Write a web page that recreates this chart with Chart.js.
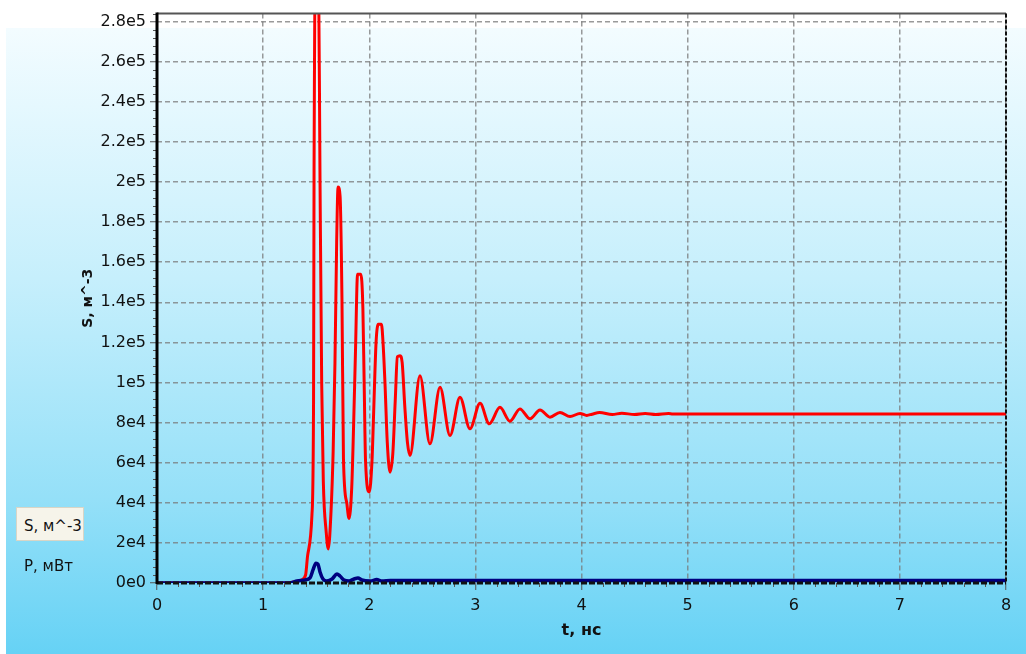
<!DOCTYPE html>
<html>
<head>
<meta charset="utf-8">
<script src="https://cdn.jsdelivr.net/npm/chart.js@4.4.1/dist/chart.umd.min.js"></script>
<style>
  html, body { margin: 0; padding: 0; background: #fff; }
  #wrap { position: relative; width: 1026px; height: 654px; overflow: hidden; }
  #panel { position: absolute; left: 6px; top: 28px; right: 0; bottom: 0;
    background: linear-gradient(to bottom, #f3fcff 0%, #c6effc 40%, #95e0f8 75%, #66d2f5 100%); }
  #chart { position: absolute; left: 0; top: 0; }
  .leg { position: absolute; font: 15px "DejaVu Sans", sans-serif; color: #111; white-space: nowrap; }
  #legS { left: 16px; top: 507px; width: 68px; box-sizing: border-box; background: #f6f4ea;
    border: 1px solid #d8d5c6; padding: 4px 0 0 7px; line-height: 28px; }
  #legP { left: 24px; top: 556px; line-height: 20px; }
</style>
</head>
<body>
<div id="wrap">
  <div id="panel"></div>
  <canvas id="chart" width="1026" height="654"></canvas>
  <div class="leg" id="legS"></div>
  <div class="leg" id="legP"></div>
</div>
<script>
// S, м^-3 (красная)
const tS = [0, 1.20, 1.30, 1.36, 1.40, 1.42, 1.46, 1.475, 1.48, 1.50, 1.52, 1.536, 1.552, 1.567, 1.595, 1.614,
  1.640, 1.660, 1.677, 1.693, 1.706, 1.725, 1.743, 1.757, 1.788, 1.809, 1.835, 1.852, 1.870, 1.890, 1.920,
  1.940, 1.952, 1.965, 2.000, 2.026, 2.040, 2.064, 2.085, 2.115, 2.130, 2.148, 2.170, 2.196, 2.222, 2.245,
  2.265, 2.290, 2.310, 2.335, 2.360, 2.384, 2.478, 2.572, 2.667, 2.761, 2.855, 2.949, 3.044, 3.131, 3.232,
  3.326, 3.420, 3.515, 3.609, 3.703, 3.797, 3.892, 3.986, 4.05, 4.10, 4.17, 4.29, 4.38, 4.50, 4.60, 4.70,
  4.82, 4.86, 8];
const sVals = [0, 0, 600, 1500, 4000, 14000, 34000, 89000, 206000, 330000, 320000, 201000, 99000, 51000, 25000, 17000,
  36000, 66000, 110000, 170000, 197500, 193000, 141000, 62000, 40000, 32200, 47700, 77500, 115000, 154000, 154000,
  137000, 100000, 61000, 45400, 61000, 82500, 119800, 129000, 129000, 119800, 100000, 70000, 55300, 64600, 91000,
  112800, 113300, 110000, 88000, 70000, 63600, 103400, 69400, 97600, 73600, 92600, 76900, 89600, 79400, 87600,
  80700, 86800, 81900, 86300, 82700, 85100, 83000, 84600, 83600, 84200, 85000, 84000, 84700, 84000, 84500, 84000,
  84500, 84300, 84300];

// P, мВт (синяя)
const tP = [0, 1.25, 1.32, 1.395, 1.442, 1.47, 1.498, 1.517, 1.536, 1.564, 1.60, 1.65, 1.696, 1.724, 1.762,
  1.81, 1.856, 1.894, 1.93, 2.01, 2.07, 2.12, 2.20, 8];
const pVals = [0, 0, 1000, 1500, 2500, 6500, 9900, 9400, 5500, 2000, 1000, 2000, 4500, 3500, 1500,
  1000, 2000, 2500, 1500, 1000, 1700, 1000, 1300, 1300];

const seriesLabels = ['S, м^-3', 'P, мВт'];
const xTicks = [0, 1, 2, 3, 4, 5, 6, 7, 8];
const yTicks = [0, 20000, 40000, 60000, 80000, 100000, 120000, 140000, 160000, 180000, 200000, 220000, 240000, 260000, 280000];
const yTickLabels = ['0e0', '2e4', '4e4', '6e4', '8e4', '1e5', '1.2e5', '1.4e5', '1.6e5', '1.8e5', '2e5', '2.2e5', '2.4e5', '2.6e5', '2.8e5'];

document.getElementById('legS').textContent = seriesLabels[0];
document.getElementById('legP').textContent = seriesLabels[1];

const FONT = 'DejaVu Sans';

// рамка графика и мелкие засечки
const axisFrame = {
  id: 'axisFrame',
  afterDatasetsDraw(chart) {
    const {ctx, chartArea: a, scales: {x, y}} = chart;
    ctx.save();
    // мелкие засечки
    ctx.strokeStyle = '#555';
    ctx.lineWidth = 1;
    ctx.beginPath();
    for (let v = 0; v <= 284000; v += 4000) {
      if (v % 20000 === 0) continue;
      const py = Math.round(y.getPixelForValue(v)) + 0.5;
      ctx.moveTo(a.left - 4, py); ctx.lineTo(a.left, py);
    }
    for (let i = 1; i < 40; i++) {
      if (i % 5 === 0) continue;
      const px = Math.round(x.getPixelForValue(i / 5)) + 0.5;
      ctx.moveTo(px, a.bottom); ctx.lineTo(px, a.bottom + 4);
    }
    ctx.stroke();

    // верх
    ctx.strokeStyle = '#555';
    ctx.lineWidth = 2;
    ctx.beginPath(); ctx.moveTo(a.left, a.top); ctx.lineTo(a.right, a.top); ctx.stroke();
    // право
    ctx.strokeStyle = '#111';
    ctx.setLineDash([4, 2]);
    ctx.beginPath(); ctx.moveTo(a.right, a.top); ctx.lineTo(a.right, a.bottom); ctx.stroke();
    // низ
    ctx.lineWidth = 3;
    ctx.setLineDash([6, 2]);
    ctx.beginPath(); ctx.moveTo(a.left, a.bottom); ctx.lineTo(a.right, a.bottom); ctx.stroke();
    // лево
    ctx.setLineDash([]);
    ctx.strokeStyle = '#000';
    ctx.beginPath(); ctx.moveTo(a.left, a.top - 1); ctx.lineTo(a.left, a.bottom + 1); ctx.stroke();
    ctx.restore();
  }
};

new Chart(document.getElementById('chart'), {
  type: 'line',
  data: {
    datasets: [
      {
        label: seriesLabels[0],
        data: tS.map((t, i) => ({x: t, y: sVals[i]})),
        borderColor: '#ff0000',
        borderWidth: 3,
        pointRadius: 0,
        cubicInterpolationMode: 'monotone',
        order: 2
      },
      {
        label: seriesLabels[1],
        data: tP.map((t, i) => ({x: t, y: pVals[i]})),
        borderColor: '#00007f',
        borderWidth: 3.5,
        pointRadius: 0,
        cubicInterpolationMode: 'monotone',
        order: 1
      }
    ]
  },
  options: {
    responsive: false,
    animation: false,
    layout: { padding: { left: 0, right: 20, top: 11, bottom: 0 } },
    plugins: { legend: { display: false }, tooltip: { enabled: false } },
    scales: {
      x: {
        type: 'linear',
        min: 0,
        max: 8,
        afterBuildTicks: s => { s.ticks = xTicks.map(v => ({value: v})); },
        afterFit: s => { s.height = 71; },
        ticks: {
          color: '#111', padding: 6, maxRotation: 0, autoSkip: false,
          font: { family: FONT, size: 16 },
          callback: v => String(v)
        },
        grid: { color: 'rgba(120,120,120,0.75)', lineWidth: 1.5, tickColor: '#555', tickLength: 7, tickWidth: 1 },
        border: { display: false, dash: [5, 3] },
        title: {
          display: true, text: 't, нс', color: '#111',
          font: { family: FONT, size: 16, weight: 'bold' },
          padding: { top: 0, bottom: 14 }
        }
      },
      y: {
        type: 'linear',
        min: 0,
        max: 284000,
        afterBuildTicks: s => { s.ticks = yTicks.map(v => ({value: v})); },
        afterFit: s => { s.width = 157; },
        ticks: {
          color: '#111', padding: 4, autoSkip: false,
          font: { family: FONT, size: 16 },
          callback: (v, i) => yTickLabels[i]
        },
        grid: { color: 'rgba(120,120,120,0.75)', lineWidth: 1.5, tickColor: '#555', tickLength: 7, tickWidth: 1 },
        border: { display: false, dash: [5, 3] },
        title: {
          display: true, text: seriesLabels[0], color: '#111',
          font: { family: FONT, size: 14, weight: 'bold' },
          padding: { top: 80, bottom: 0 }
        }
      }
    }
  },
  plugins: [axisFrame]
});
</script>
</body>
</html>
